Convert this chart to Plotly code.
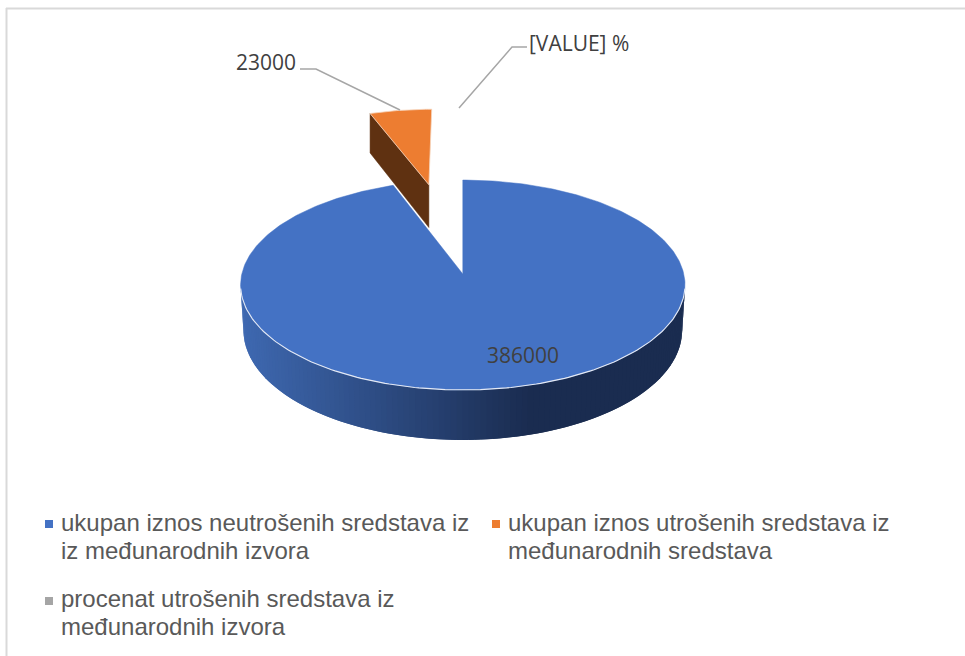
import math
import plotly.graph_objects as go

categories = [
    "ukupan iznos neutrošenih sredstava iz<br>iz međunarodnih izvora",
    "ukupan iznos utrošenih sredstava iz<br>međunarodnih sredstava",
    "procenat utrošenih sredstava iz<br>međunarodnih izvora",
]
values = [386000, 23000, 0]
value_labels = ["386000", "23000", "[VALUE] %"]
colors = ["#4472C4", "#ED7D31", "#A5A5A5"]

W, H = 965, 656
CX, CY, RX, K, P, DEPTH = 462.8, 274, 221, 103.8, 0.105, 44.7
ORANGE_DEPTH = 47
total = sum(values)


def project(u, v):
    s = 1 + P * v
    return CX + RX * u / s, CY - K * v / s


def lower(u, v):
    x, y = project(u, v)
    return CX + (x - CX) * 0.987, y + DEPTH / (1 + P * v)


def lower_orange(u, v):
    x, y = project(u, v)
    return x, y + ORANGE_DEPTH / (1 + P * v)


def arc(a0, a1, r=1.0, du=0.0, dv=0.0, n=160):
    pts = []
    for i in range(n + 1):
        t = math.radians(a0 + (a1 - a0) * i / n)
        pts.append((du + r * math.sin(t), dv + r * math.cos(t)))
    return pts


def mix(c0, c1, f):
    return "rgb(%d,%d,%d)" % tuple(round(a + (b - a) * f) for a, b in zip(c0, c1))


def side_color(x):
    f = min(1, max(0, (x - 243) / (530 - 243)))
    return mix((0x3E, 0x68, 0xB0), (0x1A, 0x2C, 0x50), f)


def poly(pts, fn, color, lw=0.6, lc=None):
    xy = [fn(u, v) for u, v in pts]
    return go.Scatter(
        x=[p[0] for p in xy] + [xy[0][0]], y=[p[1] for p in xy] + [xy[0][1]],
        mode="lines", fill="toself", fillcolor=color,
        line=dict(color=lc or color, width=lw),
        hoverinfo="skip", showlegend=False,
    )


fig = go.Figure()

# angles of the slices, clockwise from 12 o'clock
a_blue = 360 * values[0] / total
a_orange = 360 * values[1] / total
start_blue = 0.0
end_blue = start_blue + a_blue
start_orange = end_blue
end_orange = start_orange + a_orange

# blue side wall (front half) as gradient strip, each piece runs under the next
seg = list(reversed(arc(96, 264, n=120)))
for i in range(len(seg) - 1):
    u0, v0 = seg[i]
    u1, v1 = seg[min(i + 2, len(seg) - 1)]
    um, vm = seg[i + 1]
    a = project(u0, v0); b = project(u1, v1)
    c = lower(u1, v1); d = lower(u0, v0)
    col = side_color((project(u0, v0)[0] + project(um, vm)[0]) / 2)
    fig.add_trace(go.Scatter(
        x=[a[0], b[0], c[0], d[0], a[0]], y=[a[1], b[1], c[1], d[1], a[1]],
        mode="lines", fill="toself", fillcolor=col, line=dict(width=0),
        hoverinfo="skip", showlegend=False))

# blue top face
blue_pts = [(0.0, 0.0)] + arc(start_blue, end_blue, n=360)
fig.add_trace(poly(blue_pts, project, colors[0], lw=0.5))

# light rim on the front edge
rim = [project(u, v) for u, v in arc(98, 262, n=160)]
fig.add_trace(go.Scatter(x=[p[0] for p in rim], y=[p[1] for p in rim], mode="lines",
                         line=dict(color="#E4E9F4", width=1.1), hoverinfo="skip", showlegend=False))

# exploded orange slice
mid = math.radians((start_orange + end_orange) / 2)
EXPL, RO = 0.96, 0.96
du, dv = EXPL * math.sin(mid), EXPL * math.cos(mid)
o_arc = arc(start_orange, end_orange, r=RO, du=du, dv=dv, n=30)
apex = (du, dv)
left = o_arc[0]
a, b = project(*apex), project(*left)
c, d = lower_orange(*left), lower_orange(*apex)
fig.add_trace(go.Scatter(x=[a[0], b[0], c[0], d[0], a[0]], y=[a[1], b[1], c[1], d[1], a[1]],
                         mode="lines", fill="toself", fillcolor="#5F3111",
                         line=dict(color="#5F3111", width=0.5), hoverinfo="skip", showlegend=False))
fig.add_trace(poly([apex] + o_arc, project, colors[1], lw=0.8, lc="#F6D5BE"))

# leader lines
for xs, ys in [([300, 316, 400], [69, 69, 110]), ([527, 512, 459], [47, 47, 108])]:
    fig.add_trace(go.Scatter(x=xs, y=ys, mode="lines", line=dict(color="#A6A6A6", width=1.5),
                             hoverinfo="skip", showlegend=False))

# legend
legend_pos = [(49, 524), (496, 524), (49, 601)]
legend_text_y = [522, 522, 598]
LINE_GAP = 28
for name, col, (lx, ly) in zip(categories, colors, legend_pos):
    fig.add_trace(go.Scatter(x=[lx], y=[ly], mode="markers",
                             marker=dict(symbol="square", size=8, color=col),
                             hoverinfo="skip", showlegend=False))

anns = []
for name, (lx, ly), ty in zip(categories, legend_pos, legend_text_y):
    for j, line in enumerate(name.split("<br>")):
        anns.append(dict(x=lx + 11, y=ty + j * LINE_GAP, text=line, xanchor="left", yanchor="middle",
                         align="left", showarrow=False, borderpad=0,
                         font=dict(family="Liberation Sans", size=24, color="#595959")))
label_pos = [(523, 355), (266, 62), (579, 43)]
for txt, (lx, ly) in zip(value_labels, label_pos):
    anns.append(dict(x=lx, y=ly, text=txt, showarrow=False, xanchor="center", yanchor="middle",
                     font=dict(family="Open Sans", size=21, color="#404040")))

fig.update_layout(
    width=W, height=H, margin=dict(l=0, r=0, t=0, b=0),
    paper_bgcolor="white", plot_bgcolor="white", showlegend=False,
    xaxis=dict(range=[0, W], visible=False, fixedrange=True),
    yaxis=dict(range=[H, 0], visible=False, fixedrange=True),
    annotations=anns,
    shapes=[
        dict(type="line", x0=6.5, x1=6.5, y0=8, y1=H, line=dict(color="#D9D9D9", width=2)),
        dict(type="line", x0=6, x1=W, y0=8.5, y1=8.5, line=dict(color="#D9D9D9", width=2)),
    ],
)
fig.write_html("out.html", post_script="document.body.style.margin='0';", config={"displayModeBar": False})
